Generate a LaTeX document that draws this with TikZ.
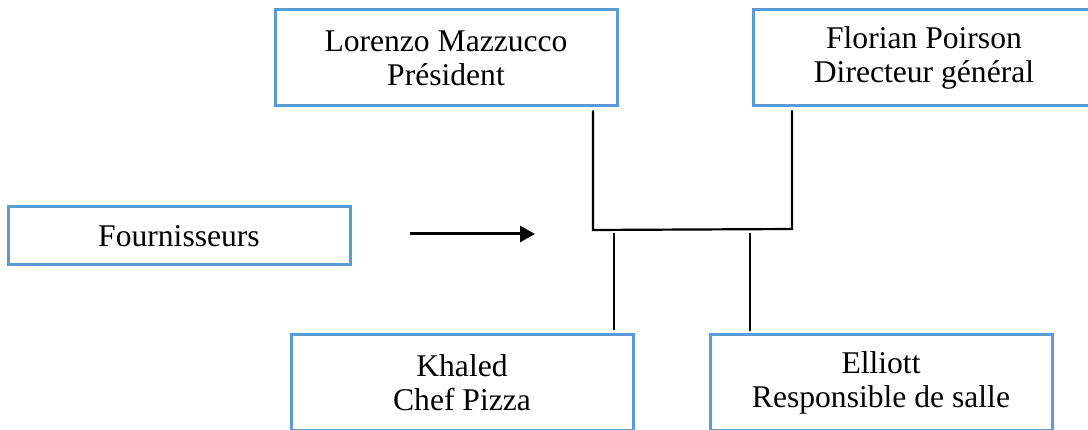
\documentclass[tikz,border=0pt]{standalone}
\usepackage{fontspec}
\setmainfont{Liberation Serif}
\usepackage{xcolor}
\usepackage{tikz}
\usetikzlibrary{arrows.meta,positioning}
\definecolor{orgBlue}{HTML}{5B9BD5}
\tikzset{
    orgBox/.style={
        draw=orgBlue,
        line width=3pt,
        align=center,
        minimum width=342pt,
        minimum height=96pt,
        inner sep=0pt,
        font=\fontsize{31.6}{34}\selectfont
    },
    orgLine/.style={
        line width=2.2pt
    },
    orgArrow/.style={
        -{Triangle[length=15pt,width=16pt]},
        line width=3pt
    }
}
\begin{document}
\begin{tikzpicture}[x=1pt,y=-1pt]
    \useasboundingbox (0,0) rectangle (1088,430);

    \node[orgBox] (president) at (446,58) {Lorenzo Mazzucco\\Président};
    \node[orgBox] (directeur) at (924,58) {Florian Poirson\\Directeur général};
    \node[orgBox,minimum height=58pt] (fournisseurs) at (179,236) {Fournisseurs};
    \node[orgBox] (chef) at (462,383) {Khaled\\Chef Pizza};
    \node[orgBox] (salle) at (881,383) {Elliott\\Responsible de salle};

    \coordinate (jointL) at (593,230);
    \coordinate (jointR) at (792,229);
    \coordinate (flowStart) at (410,234);
    \coordinate (flowEnd) at (535,234);

    \draw[orgLine] ([yshift=-3pt]president.south -| jointL) -- (jointL) -- (jointR) -- ([yshift=-3pt]directeur.south -| jointR);
    \draw[orgLine] ([xshift=21pt,yshift=-3pt]jointL) -- ([xshift=21pt,yshift=3pt]chef.north -| jointL);
    \draw[orgLine] ([xshift=-42pt,yshift=-4pt]jointR) -- ([xshift=-42pt,yshift=2pt]salle.north -| jointR);
    \draw[orgArrow] (flowStart) -- (flowEnd);
\end{tikzpicture}
\end{document}
